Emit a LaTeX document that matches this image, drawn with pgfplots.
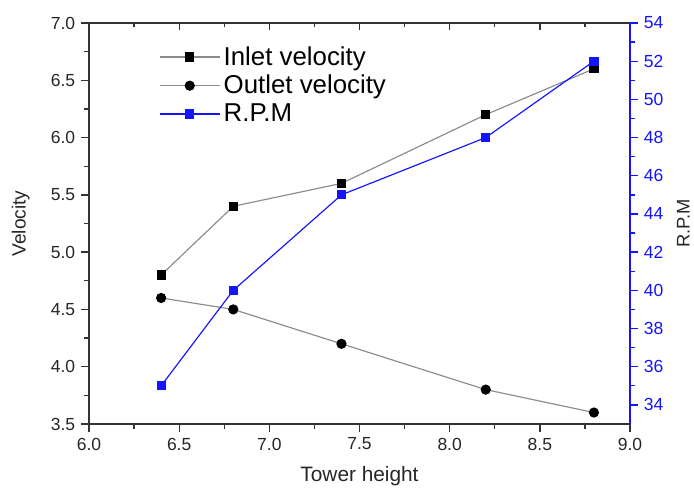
\documentclass[border=0pt]{standalone}
\usepackage{fontspec}
\setmainfont{Liberation Sans}
\usepackage{pgfplots}
\pgfplotsset{compat=1.18}
\definecolor{LineGray}{RGB}{140,140,140}
\definecolor{RpmBlue}{RGB}{20,20,255}

\begin{document}
\begin{tikzpicture}
  \pgfplotsset{
    every axis/.append style={
      scale only axis,width=324.6pt,height=240.6pt,
      xmin=6,xmax=9,
      /pgf/number format/assume math mode=true,
    },
  }
  % top ticks pointing inward
  \begin{axis}[
    name=ax,
    ymin=3.5,ymax=7,
    xtick={6,6.5,...,9},minor x tick num=1,
    xtick pos=upper,tick align=inside,xticklabels={},
    ytick=\empty,axis line style={line width=0.9pt,draw=black!80},
    major tick length=4pt,minor tick length=2.5pt,
    tick style={line width=0.8pt,black!80},
  ]
  \end{axis}
  \begin{axis}[
    ymin=3.5,ymax=7,
    xtick={6,6.5,...,9},ytick={3.5,4,...,7},
    minor x tick num=1,minor y tick num=1,
    xtick pos=bottom,ytick pos=left,tick align=outside,
    major tick length=4.8pt,minor tick length=3pt,
    tick style={line width=0.8pt,black!80},
    axis line style={line width=0.9pt,draw=black!80},
    ticklabel style={font=\fontsize{10.5}{12}\selectfont,text=black!85},
    yticklabel style={/pgf/number format/.cd,fixed,fixed zerofill,precision=1},
    xticklabel style={/pgf/number format/.cd,fixed,fixed zerofill,precision=1},
    xlabel={Tower height},ylabel={Velocity},
    xlabel style={font=\fontsize{12.5}{14}\selectfont,text=black!85,
      at={([yshift=-31pt]axis description cs:0.5,0)},anchor=center},
    ylabel style={font=\fontsize{11.5}{14}\selectfont,text=black!85,
      at={([xshift=-41pt]axis description cs:0,0.5)},anchor=center},
    legend style={at={(axis description cs:0.126,0.955)},anchor=north west,draw=none,fill=none,
      font=\fontsize{15.5}{17}\selectfont,row sep=0.5pt,inner sep=1pt},
    legend cell align=left,
    legend image code/.code={
      \draw[#1,mark repeat=2,mark phase=2] plot coordinates {(0pt,0pt) (18pt,0pt) (36pt,0pt)};},
  ]
    \addplot[LineGray,line width=0.7pt,mark=square*,mark size=2.4pt,mark options={black,solid}]
      coordinates {(6.4,4.8) (6.8,5.4) (7.4,5.6) (8.2,6.2) (8.8,6.6)};
    \addlegendentry{Inlet velocity}
    \addplot[LineGray,line width=0.7pt,mark=*,mark size=2.7pt,mark options={black,solid}]
      coordinates {(6.4,4.6) (6.8,4.5) (7.4,4.2) (8.2,3.8) (8.8,3.6)};
    \addlegendentry{Outlet velocity}
    \addlegendimage{RpmBlue,line width=0.7pt,mark=square*,mark size=2.4pt,mark options={RpmBlue}}
    \addlegendentry{R.P.M}
  \end{axis}
  \begin{axis}[
    ymin=33,ymax=54,ytick={34,36,...,54},minor y tick num=1,
    axis x line=none,axis y line*=right,
    tick align=outside,
    major tick length=4.8pt,minor tick length=3pt,
    y axis line style={line width=0.9pt,draw=RpmBlue,-},
    ytick style={line width=0.8pt,RpmBlue},
    yticklabel style={font=\fontsize{10.5}{12}\selectfont,text=RpmBlue,
      /pgf/number format/.cd,fixed,precision=0},
    ylabel={R.P.M},
    ylabel style={font=\fontsize{11}{13}\selectfont,text=black!85,inner sep=0pt,
      at={([xshift=32pt]axis description cs:1,0.5)},anchor=center},
  ]
    \addplot[RpmBlue,line width=0.7pt,mark=square*,mark size=2.4pt,mark options={RpmBlue}]
      coordinates {(6.4,35) (6.8,40) (7.4,45) (8.2,48) (8.8,52)};
  \end{axis}
  \pgfresetboundingbox
  \useasboundingbox ([xshift=-53.4pt,yshift=-38.4pt]ax.south west) rectangle ([xshift=38.4pt,yshift=13.8pt]ax.north east);
\end{tikzpicture}
\end{document}
